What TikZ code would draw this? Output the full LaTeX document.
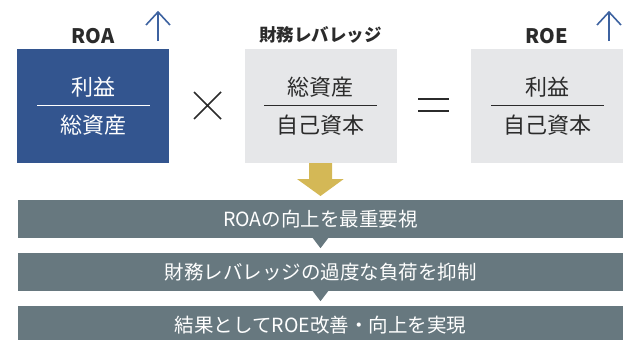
\documentclass[tikz,border=0pt]{standalone}
\usepackage{fontspec}
\setmainfont{Noto Sans CJK JP}
\definecolor{roablue}{HTML}{33558F}
\definecolor{boxgrey}{HTML}{E6E7E9}
\definecolor{bargrey}{HTML}{67787F}
\definecolor{gold}{HTML}{D4B856}
\definecolor{arrowblue}{HTML}{3D62A0}
\definecolor{txt}{HTML}{2B2B2B}
\tikzset{
  fracbox/.style={rectangle, inner sep=0pt, minimum width=152pt, minimum height=114pt},
  fractext/.style={font=\fontsize{22}{26}\selectfont, inner sep=0pt, anchor=center},
  toplabel/.style={font=\fontsize{20}{24}\selectfont\bfseries, text=txt, inner sep=0pt, anchor=base},
  flowbar/.style={rectangle, fill=bargrey, inner sep=0pt, minimum width=605pt, minimum height=38pt, text=white, font=\fontsize{19.5}{23}\selectfont},
  uparrow/.style={draw=arrowblue, line width=1.6pt},
}
\begin{document}
\begin{tikzpicture}[x=1pt,y=-1pt]
\useasboundingbox (0,0) rectangle (627,340);
% boxes
\node[fracbox, fill=roablue] (roa) at (93,106) {};
\node[fracbox, fill=boxgrey] (lev) at (320.5,106) {};
\node[fracbox, fill=boxgrey] (roe) at (547,106) {};
% labels
\node[toplabel] (roalbl) at (93,43) {ROA};
\node[toplabel, font=\fontsize{17.5}{21}\selectfont\bfseries] (levlbl) at (320.5,41) {財務レバレッジ};
\node[toplabel] (roelbl) at (547,43) {ROE};
% up arrows
\coordinate (a1b) at (158,41); \coordinate (a1t) at (158,12);
\draw[uparrow] (a1b) -- (a1t);
\draw[uparrow] (146,25) -- (a1t) -- (170,25);
\coordinate (a2b) at (609,41); \coordinate (a2t) at (609,12);
\draw[uparrow] (a2b) -- (a2t);
\draw[uparrow] (597,25) -- (a2t) -- (621,25);
% fractions
\node[fractext, text=white] (roan) at (93,87) {利益};
\node[fractext, text=white] (road) at (93,125) {総資産};
\draw[white, line width=1pt] (37,105) -- (150,105);
\node[fractext, text=txt] (levn) at (320.5,87) {総資産};
\node[fractext, text=txt] (levd) at (320.5,125) {自己資本};
\draw[txt, line width=1pt] (264,105) -- (377,105);
\node[fractext, text=txt] (roen) at (547,87) {利益};
\node[fractext, text=txt] (roed) at (547,125) {自己資本};
\draw[txt, line width=1pt] (491,105) -- (604,105);
% operators
\draw[txt, line width=1.6pt] (194,92) -- (221,119) (221,92) -- (194,119);
\draw[txt, line width=1.6pt] (418,99) -- (449,99) (418,111) -- (449,111);
% bars
\node[flowbar] (b1) at (320.5,219) {ROAの向上を最重要視};
\node[flowbar] (b2) at (320.5,272) {財務レバレッジの過度な負荷を抑制};
\node[flowbar] (b3) at (320.5,325) {結果としてROE改善・向上を実現};
% gold arrow
\fill[gold] (lev.south) ++(-11.5,0) -- ++(23,0) -- ++(0,16) -- ++(11.5,0) -- (320.5,196) -- (297,179) -- (309,179) -- cycle;
% small triangles
\fill[bargrey] (b1.south) ++(-8,-0.5) -- ++(16,0) -- ++(-8,10.5) -- cycle;
\fill[bargrey] (b2.south) ++(-8,-0.5) -- ++(16,0) -- ++(-8,10.5) -- cycle;
\end{tikzpicture}
\end{document}
